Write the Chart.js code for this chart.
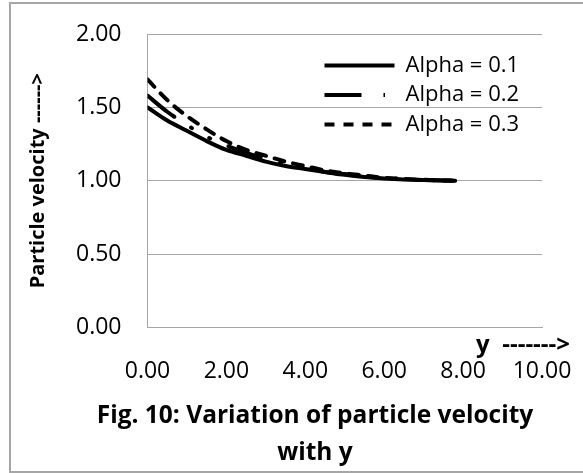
<!DOCTYPE html>
<html>
<head>
<meta charset="utf-8">
<script src="https://cdn.jsdelivr.net/npm/chart.js@4.4.0/dist/chart.umd.min.js"></script>
<style>
  html, body { margin: 0; padding: 0; background: #fff; overflow: hidden; }
  #moldura { position: absolute; left: 9px; top: 2px; width: 700px; height: 467px; border: 2px solid #a6a6a6; border-right: none; }
  #caixa { position: absolute; left: 0; top: 0; width: 604px; height: 473px; }
</style>
</head>
<body>
<div id="moldura"></div>
<div id="caixa"><canvas id="grafico"></canvas></div>
<script>
// Dados
const posY = [0, 0.5, 1, 1.5, 2, 2.5, 3, 3.5, 4, 4.5, 5, 5.5, 6, 6.5, 7, 7.5, 7.8];
const alpha01 = [1.50, 1.41, 1.34, 1.27, 1.21, 1.17, 1.13, 1.10, 1.08, 1.06, 1.04, 1.025, 1.015, 1.008, 1.004, 1.001, 1.0];
const alpha02 = [1.58, 1.47, 1.38, 1.30, 1.24, 1.19, 1.15, 1.11, 1.085, 1.06, 1.045, 1.03, 1.018, 1.01, 1.005, 1.002, 1.0];
const alpha03 = [1.69, 1.55, 1.44, 1.35, 1.27, 1.21, 1.17, 1.13, 1.10, 1.07, 1.05, 1.035, 1.02, 1.012, 1.006, 1.002, 1.0];
const nomesSeries = ['Alpha = 0.1', 'Alpha = 0.2', 'Alpha = 0.3'];
const ticksX = [0, 2, 4, 6, 8, 10];
const ticksY = [0, 0.5, 1, 1.5, 2];

const fonte = 'Open Sans';
const cinza = '#a6a6a6';

// tracejados das curvas (cap redondo) e das amostras da legenda
const tracos = [[], [34, 20, 1, 20, 1, 20], [10, 9]];
const tracosLegenda = [[], [37, 22, 1.5, 100], [10, 9]];

function pontos(valores) {
  return posY.map((x, i) => ({ x: x, y: valores[i] }));
}

// legenda dentro da area do grafico, como no Excel
const legendaDentro = {
  id: 'legendaDentro',
  beforeLayout(chart) {
    const lg = chart.legend;
    if (lg && !lg._ajustada) {
      const fitOriginal = lg.fit;
      lg.fit = function () { fitOriginal.call(this); this.width = 62; };
      lg._ajustada = true;
    }
  },
  afterLayout(chart) {
    const lg = chart.legend;
    const area = chart.chartArea;
    lg.left = area.left + 169.5;
    lg.right = chart.width;
    lg.top = area.top + 13;
    lg.bottom = area.top + 130;
  }
};

// rotulo "y ------->" acima dos ticks do eixo x
const rotuloEixoX = {
  id: 'rotuloEixoX',
  afterDraw(chart) {
    const ctx = chart.ctx;
    const area = chart.chartArea;
    ctx.save();
    ctx.font = 'bold 24px "' + fonte + '"';
    ctx.fillStyle = '#000';
    ctx.textAlign = 'right';
    ctx.textBaseline = 'middle';
    ctx.fillText('y  ------->', area.right + 28, area.bottom + 18);
    ctx.restore();
  }
};

const ctx = document.getElementById('grafico').getContext('2d');
new Chart(ctx, {
  type: 'line',
  data: {
    datasets: [alpha01, alpha02, alpha03].map((serie, i) => ({
      label: nomesSeries[i],
      data: pontos(serie),
      borderColor: '#000',
      backgroundColor: '#000',
      borderWidth: 4,
      borderDash: tracos[i],
      borderCapStyle: 'round',
      borderJoinStyle: 'round',
      pointRadius: 0,
      pointStyle: 'line',
      cubicInterpolationMode: 'monotone',
      fill: false
    }))
  },
  options: {
    responsive: true,
    maintainAspectRatio: false,
    animation: false,
    layout: { padding: { left: 26, right: 0, top: 34, bottom: 2 } },
    scales: {
      x: {
        type: 'linear',
        min: 0,
        max: 10,
        afterBuildTicks: s => { s.ticks = ticksX.map(v => ({ value: v })); },
        afterFit: s => { s.height -= s.options.ticks.padding; },
        grid: { display: false, drawTicks: false },
        border: { display: true, color: cinza, width: 1 },
        ticks: {
          padding: 30,
          color: '#000',
          font: { family: fonte, size: 23 },
          maxRotation: 0,
          callback: v => v.toFixed(2)
        }
      },
      y: {
        min: 0,
        max: 2,
        afterBuildTicks: s => { s.ticks = ticksY.map(v => ({ value: v })); },
        afterFit: s => { s.paddingTop = 0; s.paddingBottom = 0; },
        grid: { color: cinza, lineWidth: 1, drawTicks: false },
        border: { display: true, color: cinza, width: 1 },
        ticks: {
          padding: 26,
          color: '#000',
          font: { family: fonte, size: 23 },
          callback: v => v.toFixed(2)
        },
        title: {
          display: true,
          text: 'Particle velocity ------>',
          color: '#000',
          font: { family: fonte, size: 20, weight: 'bold' },
          padding: { top: 0, bottom: 0 }
        }
      }
    },
    plugins: {
      legend: {
        position: 'right',
        align: 'start',
        labels: {
          usePointStyle: true,
          pointStyle: 'line',
          pointStyleWidth: 70,
          padding: 7.5,
          color: '#000',
          font: { family: fonte, size: 22 },
          generateLabels(chart) {
            const itens = Chart.defaults.plugins.legend.labels.generateLabels(chart);
            itens.forEach((item, i) => { item.lineDash = tracosLegenda[i]; });
            return itens;
          }
        }
      },
      title: {
        display: true,
        position: 'bottom',
        text: ['Fig. 10: Variation of particle velocity', 'with y'],
        color: '#000',
        font: { family: fonte, size: 24.5, weight: 'bold', lineHeight: 1.5 },
        padding: { top: 12.5, bottom: 0 }
      },
      tooltip: { enabled: false }
    }
  },
  plugins: [legendaDentro, rotuloEixoX]
});
</script>
</body>
</html>
